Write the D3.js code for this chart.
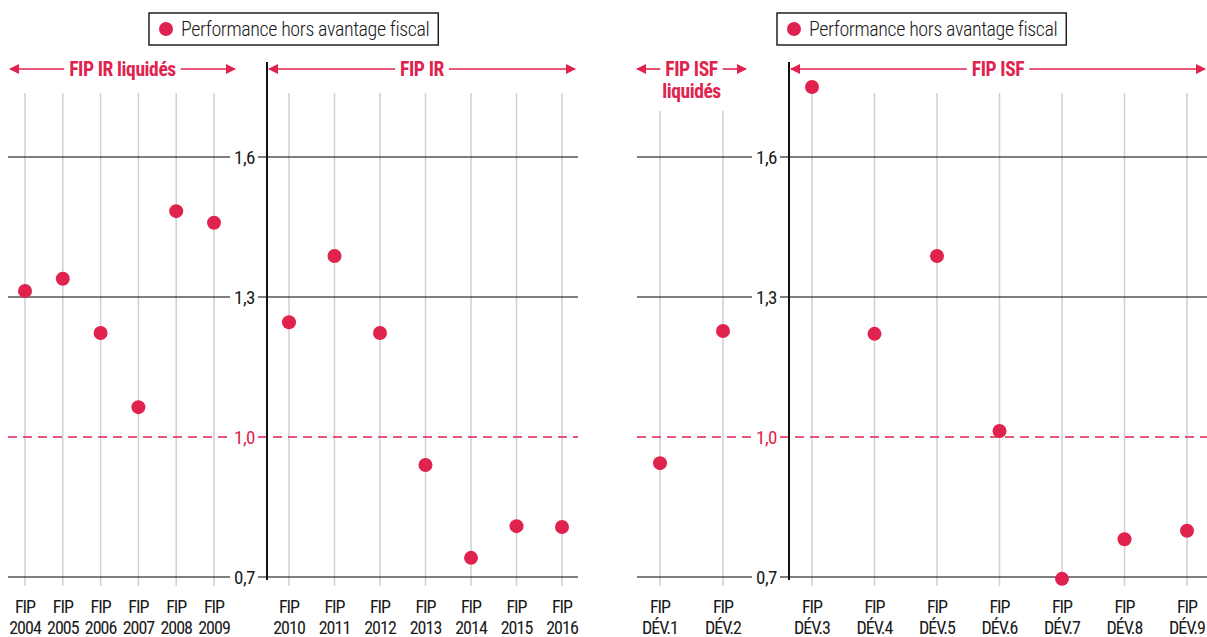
<!DOCTYPE html>
<html>
<head>
<meta charset="utf-8">
<script src="https://cdn.jsdelivr.net/npm/d3@7"></script>
<style>
  body { margin: 0; background: #fff; }
  svg text { font-family: "Liberation Sans Narrow", "Roboto Condensed", "DejaVu Sans Condensed", sans-serif; font-stretch: condensed; }
</style>
</head>
<body>
<div id="chart"></div>
<script>
// categories
const irLiqLabels = ["2004", "2005", "2006", "2007", "2008", "2009"];
const irLabels = ["2010", "2011", "2012", "2013", "2014", "2015", "2016"];
const isfLiqLabels = ["DÉV.1", "DÉV.2"];
const isfLabels = ["DÉV.3", "DÉV.4", "DÉV.5", "DÉV.6", "DÉV.7", "DÉV.8", "DÉV.9"];

// performance hors avantage fiscal
const irLiqValues = [1.313, 1.339, 1.223, 1.064, 1.484, 1.459];
const irValues = [1.246, 1.388, 1.223, 0.94, 0.741, 0.809, 0.807];
const isfLiqValues = [0.944, 1.227];
const isfValues = [1.75, 1.221, 1.388, 1.013, 0.696, 0.781, 0.799];

const yTicks = [0.7, 1.0, 1.3, 1.6];
const legendLabel = "Performance hors avantage fiscal";

var RED = "#e0234e";
var width = 1207, height = 637;

var svg = d3.select("#chart").append("svg")
  .attr("width", width)
  .attr("height", height);

var defs = svg.append("defs");
defs.append("marker")
  .attr("id", "arr")
  .attr("viewBox", "0 0 10 10")
  .attr("refX", 9).attr("refY", 5)
  .attr("markerWidth", 10).attr("markerHeight", 10)
  .attr("markerUnits", "userSpaceOnUse")
  .attr("orient", "auto-start-reverse")
  .append("path")
  .attr("d", "M0,0 L10,5 L0,10 Z")
  .attr("fill", RED);

var y = d3.scaleLinear().domain([0.7, 1.6]).range([577, 157]);

const fmt = v => d3.format(".1f")(v).replace(".", ",");

// two halves: each with a "liquidés" group and a live group
var halves = [
  {
    x0: 8, x1: 578, axisX: 267, legendX: 149,
    groups: [
      {labels: irLiqLabels, values: irLiqValues, range: [25, 214], title: ["FIP IR liquidés"], arrows: [10, 235], lineTop: 93},
      {labels: irLabels, values: irValues, range: [289, 562], title: ["FIP IR"], arrows: [269, 575], lineTop: 93}
    ]
  },
  {
    x0: 637, x1: 1207, axisX: 789, legendX: 777,
    groups: [
      {labels: isfLiqLabels, values: isfLiqValues, range: [660, 723], title: ["FIP ISF", "liquidés"], arrows: [637, 746], lineTop: 111},
      {labels: isfLabels, values: isfValues, range: [812, 1187], title: ["FIP ISF"], arrows: [791, 1205], lineTop: 93}
    ]
  }
];

halves.forEach(function(h) {
  var g = svg.append("g");

  // gray category lines
  h.groups.forEach(function(grp) {
    grp.x = d3.scalePoint().domain(grp.labels).range(grp.range);
    g.append("g").selectAll("line")
      .data(grp.labels)
      .enter().append("line")
      .attr("x1", d => grp.x(d)).attr("x2", d => grp.x(d))
      .attr("y1", grp.lineTop).attr("y2", 586)
      .attr("stroke", "#cfcfd4")
      .attr("stroke-width", 1.5);
  });

  // horizontal grid lines with labels on the axis
  var grid = g.append("g");
  yTicks.forEach(function(t) {
    var isOne = Math.abs(t - 1) < 1e-9;
    var col = isOne ? RED : "#000";
    var segs = [[h.x0, h.axisX - 37], [h.axisX - 9, h.x1]];
    segs.forEach(function(s) {
      grid.append("line")
        .attr("x1", s[0]).attr("x2", s[1])
        .attr("y1", y(t)).attr("y2", y(t))
        .attr("stroke", col)
        .attr("stroke-width", isOne ? 1.6 : 1.1)
        .attr("stroke-dasharray", isOne ? "9,6" : null);
    });
    grid.append("text")
      .attr("x", h.axisX - 12)
      .attr("y", y(t))
      .attr("dy", "0.35em")
      .attr("text-anchor", "end")
      .attr("font-size", 19)
      .attr("letter-spacing", -0.5)
      .attr("fill", isOne ? RED : "#1a1a1a")
      .text(fmt(t));
  });

  // vertical axis
  g.append("line")
    .attr("x1", h.axisX).attr("x2", h.axisX)
    .attr("y1", 62).attr("y2", 580)
    .attr("stroke", "#111")
    .attr("stroke-width", 2);

  // group headers with arrows
  h.groups.forEach(function(grp) {
    var cx = (grp.arrows[0] + grp.arrows[1]) / 2;
    var tw = 0;
    grp.title.forEach(function(line, i) {
      var t = g.append("text")
        .attr("x", cx).attr("y", 69 + i * 22)
        .attr("dy", "0.35em")
        .attr("text-anchor", "middle")
        .attr("font-size", 19.5)
        .attr("font-weight", "bold")
        .attr("letter-spacing", -0.4)
        .attr("fill", RED)
        .text(line);
      if (i === 0) tw = t.node().getComputedTextLength();
    });
    g.append("line")
      .attr("x1", cx - tw / 2 - 5).attr("x2", grp.arrows[0])
      .attr("y1", 69).attr("y2", 69)
      .attr("stroke", RED).attr("stroke-width", 1.6)
      .attr("marker-end", "url(#arr)");
    g.append("line")
      .attr("x1", cx + tw / 2 + 5).attr("x2", grp.arrows[1])
      .attr("y1", 69).attr("y2", 69)
      .attr("stroke", RED).attr("stroke-width", 1.6)
      .attr("marker-end", "url(#arr)");

    // category labels (two lines)
    [["FIP", 613], [null, 634]].forEach(function(row) {
      g.append("g").selectAll("text")
        .data(grp.labels)
        .enter().append("text")
        .attr("x", d => grp.x(d))
        .attr("y", row[1])
        .attr("text-anchor", "middle")
        .attr("font-size", 18)
        .attr("letter-spacing", -1)
        .attr("fill", "#1a1a1a")
        .text(d => row[0] || d);
    });

    // dots
    g.append("g").selectAll("circle")
      .data(grp.labels.map((d, i) => ({k: d, v: grp.values[i]})))
      .enter().append("circle")
      .attr("cx", d => grp.x(d.k))
      .attr("cy", d => y(d.v))
      .attr("r", 7)
      .attr("fill", RED);
  });

  // legend
  var lg = g.append("g").attr("transform", `translate(${h.legendX},13)`);
  var lt = lg.append("text")
    .attr("x", 32).attr("y", 16)
    .attr("dy", "0.35em")
    .attr("font-size", 20)
    .attr("font-weight", 300)
    .attr("letter-spacing", -0.4)
    .attr("fill", "#1a1a1a")
    .text(legendLabel);
  var lw = lt.node().getComputedTextLength();
  lg.insert("rect", "text")
    .attr("width", 32 + lw + 9).attr("height", 32)
    .attr("fill", "#fff")
    .attr("stroke", "#222")
    .attr("stroke-width", 1.5);
  lg.append("circle")
    .attr("cx", 17).attr("cy", 16).attr("r", 7)
    .attr("fill", RED);
});
</script>
</body>
</html>
